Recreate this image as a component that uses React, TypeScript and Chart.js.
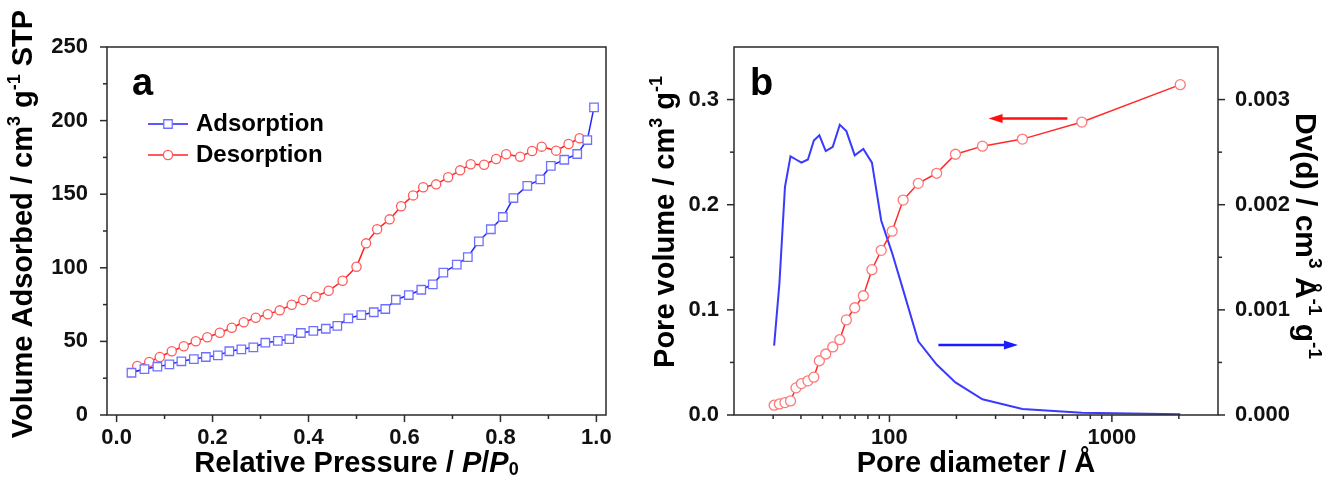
import React, { useEffect, useRef } from "react";
import { Chart, registerables } from "chart.js";
Chart.register(...registerables);

const FONT = "'Liberation Sans', Arial, Helvetica, sans-serif";

// ---------- Panel a: N2 isotherm ----------
const adsP = [0.031, 0.058, 0.085, 0.110, 0.135, 0.161, 0.186, 0.211, 0.235, 0.260, 0.285, 0.310, 0.336, 0.360, 0.384, 0.410, 0.436, 0.460, 0.483, 0.510, 0.536, 0.560, 0.582, 0.609, 0.635, 0.659, 0.681, 0.709, 0.732, 0.755, 0.780, 0.805, 0.827, 0.856, 0.883, 0.905, 0.933, 0.960, 0.981, 0.995];
const adsV = [28.7, 31.2, 32.8, 34.4, 36.5, 38.0, 39.4, 40.5, 43.3, 44.6, 46.0, 49.1, 50.3, 51.6, 55.7, 57.1, 58.6, 60.5, 65.7, 67.9, 69.8, 72.0, 78.3, 81.5, 85.1, 88.8, 96.7, 102.1, 107.3, 118.0, 126.2, 134.5, 147.4, 155.6, 160.1, 169.2, 173.4, 177.3, 186.8, 209.0];
const desP = [0.043, 0.068, 0.090, 0.115, 0.140, 0.165, 0.189, 0.215, 0.240, 0.265, 0.290, 0.315, 0.340, 0.365, 0.389, 0.415, 0.442, 0.471, 0.500, 0.520, 0.543, 0.569, 0.593, 0.618, 0.639, 0.666, 0.691, 0.716, 0.738, 0.766, 0.791, 0.812, 0.841, 0.866, 0.886, 0.916, 0.942, 0.965];
const desV = [33.3, 36.0, 39.4, 43.3, 46.7, 50.1, 52.8, 55.9, 59.3, 63.0, 66.1, 68.4, 71.1, 74.9, 78.1, 80.4, 84.4, 91.2, 100.7, 116.6, 126.2, 132.9, 141.8, 149.2, 154.7, 156.7, 161.5, 166.2, 170.3, 170.0, 173.9, 177.1, 175.5, 179.3, 182.3, 179.6, 184.1, 188.0];
const seriesNamesA = ["Adsorption", "Desorption"];
const aXMajor = [0, 0.2, 0.4, 0.6, 0.8, 1.0];
const aXMinor = [0.1, 0.3, 0.5, 0.7, 0.9];
const aYMajor = [0, 50, 100, 150, 200, 250];
const aYMinor = [25, 75, 125, 175, 225];

// ---------- Panel b: pore size ----------
const poreD = [30.3, 32.0, 33.9, 35.9, 38.0, 40.2, 43.0, 45.7, 48.4, 51.7, 55.6, 59.8, 64.0, 69.8, 76.3, 83.4, 91.8, 102.8, 115.2, 134.8, 163, 198, 262, 396, 733, 2030];
const poreVol = [0.0093, 0.0105, 0.0118, 0.0134, 0.0258, 0.0299, 0.0325, 0.036, 0.0516, 0.058, 0.0647, 0.0716, 0.0904, 0.102, 0.1134, 0.1382, 0.1566, 0.1748, 0.2044, 0.2203, 0.2299, 0.248, 0.2557, 0.2624, 0.2786, 0.3142];
const dvVal = [0.00066, 0.00125, 0.00217, 0.00246, 0.00243, 0.0024, 0.00243, 0.00261, 0.00266, 0.00251, 0.00255, 0.00276, 0.0027, 0.00247, 0.00253, 0.0024, 0.00185, 0.00154, 0.00119, 0.0007, 0.00048, 0.00031, 0.00015, 0.000058, 0.000022, 0.000007];
const bXMajor = [100, 1000];
const bXMinor = [30, 40, 50, 60, 70, 80, 90, 200, 300, 400, 500, 600, 700, 800, 900, 2000];
const bYMajor = [0, 0.1, 0.2, 0.3];
const bYMinor = [0.05, 0.15, 0.25];
const bY2Major = [0, 0.001, 0.002, 0.003];
const bY2Minor = [0.0005, 0.0015, 0.0025];
// arrows: [fromDiameter, toDiameter, leftAxisValue]
const redArrow = [631, 279, 0.282];
const blueArrow = [166, 378, 0.0666];

type Seg = { t: string; sup?: boolean; sub?: boolean; it?: boolean };

function drawRich(ctx: CanvasRenderingContext2D, segs: Seg[], cx: number, cy: number, rot: number, size: number) {
  ctx.save();
  ctx.translate(cx, cy);
  ctx.rotate(rot);
  const fontFor = (s: Seg) => `${s.it ? "italic " : ""}bold ${s.sup || s.sub ? Math.round(size * 0.62) : size}px ${FONT}`;
  let total = 0;
  const widths = segs.map((s) => {
    ctx.font = fontFor(s);
    const w = ctx.measureText(s.t).width;
    total += w;
    return w;
  });
  let x = -total / 2;
  ctx.fillStyle = "#000";
  ctx.textAlign = "left";
  ctx.textBaseline = "alphabetic";
  segs.forEach((s, i) => {
    ctx.font = fontFor(s);
    const dy = s.sup ? -size * 0.42 : s.sub ? size * 0.1 : 0;
    ctx.fillText(s.t, x, size * 0.358 + dy);
    x += widths[i];
  });
  ctx.restore();
}

type TickSpec = { id: string; side: "bottom" | "left" | "right"; major: number[]; minor: number[] };

function makeDeco(cfg: {
  ticks: TickSpec[];
  titles: { segs: Seg[]; x: number; y: number; rot: number; size: number }[];
  letter: { t: string; x: number; y: number };
  legend?: { x1: number; x2: number; tx: number; rows: { y: number; ds: number }[] };
  arrows?: { spec: number[]; color: string }[];
}) {
  return {
    id: "deco",
    afterDatasetsDraw(chart: any) {
      const ctx: CanvasRenderingContext2D = chart.ctx;
      const a = chart.chartArea;
      ctx.save();
      // frame
      ctx.strokeStyle = "#2a2a2a";
      ctx.lineWidth = 1.5;
      ctx.strokeRect(a.left, a.top, a.right - a.left, a.bottom - a.top);
      // ticks
      for (const t of cfg.ticks) {
        const sc = chart.scales[t.id];
        const draw = (v: number, len: number) => {
          const p = sc.getPixelForValue(v);
          ctx.beginPath();
          if (t.side === "bottom") {
            ctx.moveTo(p, a.bottom);
            ctx.lineTo(p, a.bottom + len);
          } else if (t.side === "left") {
            ctx.moveTo(a.left, p);
            ctx.lineTo(a.left - len, p);
          } else {
            ctx.moveTo(a.right, p);
            ctx.lineTo(a.right + len, p);
          }
          ctx.stroke();
        };
        t.major.forEach((v) => draw(v, 7));
        t.minor.forEach((v) => draw(v, 4));
      }
      // arrows
      if (cfg.arrows) {
        const xs = chart.scales.x;
        const ys = chart.scales.y;
        for (const ar of cfg.arrows) {
          const x1 = xs.getPixelForValue(ar.spec[0]);
          const x2 = xs.getPixelForValue(ar.spec[1]);
          const y = ys.getPixelForValue(ar.spec[2]);
          const dir = Math.sign(x2 - x1);
          ctx.strokeStyle = ar.color;
          ctx.fillStyle = ar.color;
          ctx.lineWidth = 2.5;
          ctx.beginPath();
          ctx.moveTo(x1, y);
          ctx.lineTo(x2 - dir * 12, y);
          ctx.stroke();
          ctx.beginPath();
          ctx.moveTo(x2, y);
          ctx.lineTo(x2 - dir * 14, y - 4.5);
          ctx.lineTo(x2 - dir * 14, y + 4.5);
          ctx.closePath();
          ctx.fill();
        }
      }
      // legend
      if (cfg.legend) {
        const L = cfg.legend;
        for (const r of L.rows) {
          const ds = chart.data.datasets[r.ds];
          ctx.strokeStyle = ds.borderColor;
          ctx.lineWidth = ds.borderWidth;
          ctx.beginPath();
          ctx.moveTo(L.x1, r.y);
          ctx.lineTo(L.x2, r.y);
          ctx.stroke();
          const cx = (L.x1 + L.x2) / 2;
          ctx.fillStyle = "#fff";
          ctx.strokeStyle = ds.pointBorderColor;
          ctx.lineWidth = ds.pointBorderWidth;
          ctx.beginPath();
          if (ds.pointStyle === "rect") {
            const s = ds.pointRadius * Math.SQRT1_2;
            ctx.rect(cx - s, r.y - s, 2 * s, 2 * s);
          } else {
            ctx.arc(cx, r.y, ds.pointRadius, 0, Math.PI * 2);
          }
          ctx.fill();
          ctx.stroke();
          ctx.fillStyle = "#000";
          ctx.font = `bold 24px ${FONT}`;
          ctx.textAlign = "left";
          ctx.textBaseline = "middle";
          ctx.fillText(ds.label, L.tx, r.y);
        }
      }
      // panel letter
      ctx.fillStyle = "#000";
      ctx.font = `bold 38px ${FONT}`;
      ctx.textAlign = "left";
      ctx.textBaseline = "alphabetic";
      ctx.fillText(cfg.letter.t, cfg.letter.x, cfg.letter.y);
      ctx.restore();
      for (const t of cfg.titles) drawRich(ctx, t.segs, t.x, t.y, t.rot, t.size);
    },
  };
}

const tickFont = { family: FONT, size: 22, weight: "bold" as const };

function cfgA(): any {
  return {
    type: "line",
    data: {
      datasets: [
        {
          label: seriesNamesA[0],
          data: adsP.map((p, i) => ({ x: p, y: adsV[i] })),
          borderColor: "#2323ff",
          borderWidth: 1.5,
          pointStyle: "rect",
          pointRadius: 6,
          pointBorderColor: "#7070ff",
          pointBackgroundColor: "#ffffff",
          pointBorderWidth: 1.3,
          tension: 0,
        },
        {
          label: seriesNamesA[1],
          data: desP.map((p, i) => ({ x: p, y: desV[i] })),
          borderColor: "#ff2020",
          borderWidth: 1.5,
          pointStyle: "circle",
          pointRadius: 4.6,
          pointBorderColor: "#ff5a5a",
          pointBackgroundColor: "#ffffff",
          pointBorderWidth: 1.3,
          tension: 0,
        },
      ],
    },
    options: {
      responsive: false,
      animation: false,
      layout: { padding: { top: 47, right: 34, left: 0, bottom: 0 } },
      plugins: { legend: { display: false }, tooltip: { enabled: false } },
      scales: {
        x: {
          type: "linear",
          min: -0.02,
          max: 1.02,
          grid: { display: false },
          border: { display: false },
          ticks: { font: tickFont, color: "#111", padding: 2, maxRotation: 0, autoSkip: false, callback: (v: number) => v.toFixed(1) },
          afterBuildTicks: (s: any) => { s.ticks = aXMajor.map((v) => ({ value: v })); },
          afterFit: (s: any) => { s.height = 68; },
        },
        y: {
          type: "linear",
          min: 0,
          max: 250,
          grid: { display: false },
          border: { display: false },
          ticks: { font: tickFont, color: "#111", padding: 11, autoSkip: false, callback: (v: number) => String(v) },
          afterBuildTicks: (s: any) => { s.ticks = aYMajor.map((v) => ({ value: v })); },
          afterFit: (s: any) => { s.width = 107; },
        },
      },
    },
    plugins: [
      makeDeco({
        ticks: [
          { id: "x", side: "bottom", major: aXMajor, minor: aXMinor },
          { id: "y", side: "left", major: aYMajor, minor: aYMinor },
        ],
        titles: [
          { segs: [{ t: "Relative Pressure / " }, { t: "P", it: true }, { t: "/" }, { t: "P", it: true }, { t: "0", sub: true }], x: 356.5, y: 462, rot: 0, size: 29 },
          { segs: [{ t: "Volume Adsorbed / cm" }, { t: "3", sup: true }, { t: " g" }, { t: "-1", sup: true }, { t: " STP" }], x: 22, y: 224, rot: -Math.PI / 2, size: 29 },
        ],
        letter: { t: "a", x: 132, y: 95 },
        legend: { x1: 148, x2: 188, tx: 196, rows: [{ y: 124, ds: 0 }, { y: 155, ds: 1 }] },
      }),
    ],
  };
}

function cfgB(): any {
  return {
    type: "line",
    data: {
      datasets: [
        {
          label: "Pore volume",
          data: poreD.map((d, i) => ({ x: d, y: poreVol[i] })),
          yAxisID: "y",
          borderColor: "#ff2a2a",
          borderWidth: 1.5,
          pointStyle: "circle",
          pointRadius: 5,
          pointBorderColor: "#ff7878",
          pointBackgroundColor: "#ffffff",
          pointBorderWidth: 1.3,
          tension: 0,
        },
        {
          label: "Dv(d)",
          data: poreD.map((d, i) => ({ x: d, y: dvVal[i] })),
          yAxisID: "y2",
          borderColor: "#3a3aff",
          borderWidth: 2,
          pointRadius: 0,
          tension: 0,
        },
      ],
    },
    options: {
      responsive: false,
      animation: false,
      layout: { padding: { top: 47, right: 0, left: 0, bottom: 0 } },
      plugins: { legend: { display: false }, tooltip: { enabled: false } },
      scales: {
        x: {
          type: "logarithmic",
          min: 20,
          max: 3000,
          grid: { display: false },
          border: { display: false },
          ticks: { font: tickFont, color: "#111", padding: 2, maxRotation: 0, autoSkip: false, callback: (v: number) => String(v) },
          afterBuildTicks: (s: any) => { s.ticks = bXMajor.map((v) => ({ value: v })); },
          afterFit: (s: any) => { s.height = 68; },
        },
        y: {
          type: "linear",
          position: "left",
          min: 0,
          max: 0.35,
          grid: { display: false },
          border: { display: false },
          ticks: { font: tickFont, color: "#111", padding: 7, autoSkip: false, callback: (v: number) => v.toFixed(1) },
          afterBuildTicks: (s: any) => { s.ticks = bYMajor.map((v) => ({ value: v })); },
          afterFit: (s: any) => { s.width = 94; },
        },
        y2: {
          type: "linear",
          position: "right",
          min: 0,
          max: 0.0035,
          grid: { display: false },
          border: { display: false },
          ticks: { font: tickFont, color: "#111", padding: 9, autoSkip: false, callback: (v: number) => v.toFixed(3) },
          afterBuildTicks: (s: any) => { s.ticks = bY2Major.map((v) => ({ value: v })); },
          afterFit: (s: any) => { s.width = 115; },
        },
      },
    },
    plugins: [
      makeDeco({
        ticks: [
          { id: "x", side: "bottom", major: bXMajor, minor: bXMinor },
          { id: "y", side: "left", major: bYMajor, minor: bYMinor },
          { id: "y2", side: "right", major: bY2Major, minor: bY2Minor },
        ],
        titles: [
          { segs: [{ t: "Pore diameter / Å" }], x: 336, y: 462, rot: 0, size: 29 },
          { segs: [{ t: "Pore volume / cm" }, { t: "3", sup: true }, { t: " g" }, { t: "-1", sup: true }], x: 24, y: 222, rot: -Math.PI / 2, size: 29 },
          { segs: [{ t: "Dv(d) / cm" }, { t: "3", sup: true }, { t: " Å" }, { t: "-1", sup: true }, { t: " g" }, { t: "-1", sup: true }], x: 667, y: 236, rot: Math.PI / 2, size: 30 },
        ],
        letter: { t: "b", x: 110, y: 95 },
        arrows: [
          { spec: redArrow, color: "#ff1010" },
          { spec: blueArrow, color: "#1a1aff" },
        ],
      }),
    ],
  };
}

export default function App() {
  const refA = useRef<HTMLCanvasElement>(null);
  const refB = useRef<HTMLCanvasElement>(null);
  useEffect(() => {
    const a = new Chart(refA.current as HTMLCanvasElement, cfgA());
    const b = new Chart(refB.current as HTMLCanvasElement, cfgB());
    return () => {
      a.destroy();
      b.destroy();
    };
  }, []);
  return (
    <div style={{ position: "absolute", left: 0, top: 0, width: 1333, height: 483, background: "#fff" }}>
      <canvas ref={refA} width={640} height={483} style={{ position: "absolute", left: 0, top: 0 }} />
      <canvas ref={refB} width={693} height={483} style={{ position: "absolute", left: 640, top: 0 }} />
    </div>
  );
}
